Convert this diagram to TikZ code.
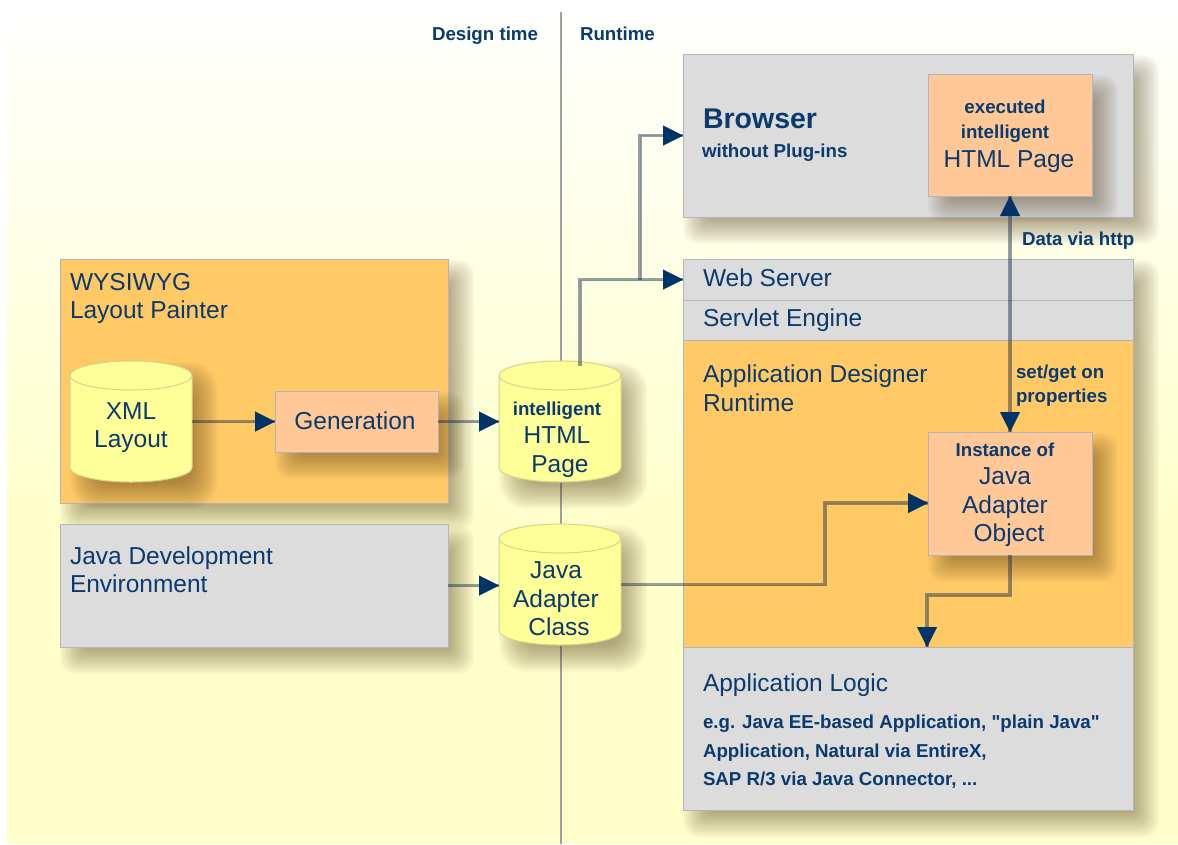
\documentclass[tikz,border=0pt]{standalone}
\usepackage{fontspec}
\setmainfont{Liberation Sans}[Ligatures=TeXOff]
\usetikzlibrary{arrows.meta,calc}
\definecolor{navy}{HTML}{0B3A6F}
\definecolor{tipnavy}{HTML}{003366}
\definecolor{orangebox}{HTML}{FFC966}
\definecolor{peach}{HTML}{FFC896}
\definecolor{grayb}{HTML}{DCDCDC}
\definecolor{cyly}{HTML}{FFFF99}
\definecolor{bord}{HTML}{B2B5BF}
\definecolor{bgy}{HTML}{FFFFCB}
\definecolor{shad}{HTML}{4A3410}
\definecolor{linkc}{HTML}{1C2C48}
\definecolor{cylb}{HTML}{D5D58A}
\newcommand{\softshadow}[5][2]{%
  \foreach \k in {0,...,15}{%
    \pgfmathsetmacro{\ins}{-13+1.73*\k}
    \fill[shad,opacity=0.032,rounded corners=#1pt+13pt-0.75pt*\k]
      ($(#2,#3)+(13+\ins,14+\ins)$) rectangle ($(#4,#5)+(13-\ins,14-\ins)$);
  }}
\newcommand{\cylbody}[5]{% name x1 y1 x2 y2
  \softshadow[14]{#2}{#3}{#4}{#5}
  \pgfmathsetmacro{\mx}{(#2+#4)/2}
  \pgfmathsetmacro{\rx}{(#4-#2)/2}
  \filldraw[cylline] (#2,#3+14.5) -- (#2,#5-14.5) arc[start angle=180,end angle=360,x radius=\rx,y radius=-14.5] -- (#4,#3+14.5) arc[start angle=0,end angle=180,x radius=\rx,y radius=-14.5] -- cycle;
  \draw[cylline,fill=none] (#2,#3+14.5) arc[start angle=180,end angle=360,x radius=\rx,y radius=-14.5];
  \node[anch,minimum width=#4pt-#2pt,minimum height=#5pt-#3pt] (#1) at (\mx,{(#3+#5)/2}) {};
}
\newcommand{\boxnode}[6]{% name style x1 y1 x2 y2
  \node[#2,minimum width=#5pt-#3pt,minimum height=#6pt-#4pt] (#1) at ({(#3+#5)/2},{(#4+#6)/2}) {};
}
\newcommand{\conn}[2][]{%
  \draw[linkline,#1] #2;
  \draw[linktip,#1] #2;
}
\tikzset{
  x=1pt,y=-1pt,
  anch/.style={rectangle,inner sep=0pt,outer sep=0pt,draw=none},
  bx/.style={rectangle,inner sep=0pt,outer sep=0pt,draw=bord,line width=1pt},
  orangeb/.style={bx,fill=orangebox},
  peachb/.style={bx,fill=peach},
  grayf/.style={bx,fill=grayb},
  cylline/.style={draw=cylb,line width=1pt,fill=cyly},
  linkline/.style={draw=linkc,draw opacity=0.45,line width=3.2pt,line join=miter},
  linktip/.style={draw=tipnavy,line width=0.01pt,-{Triangle[length=20pt,width=20pt,fill=tipnavy,color=tipnavy]}},
  t/.style={anchor=base west,inner sep=0pt,outer sep=0pt,text=navy},
  c/.style={anchor=base,inner sep=0pt,outer sep=0pt,text=navy},
  big/.style={font=\fontsize{24.5}{24.5}\selectfont},
  small/.style={font=\fontsize{18.7}{18.7}\selectfont\bfseries},
}
\begin{document}
\begin{tikzpicture}
\useasboundingbox (0,0) rectangle (1178,844);
\fill[white] (0,0) rectangle (1178,844);
\shade[top color=white,bottom color=bgy] (7,0) rectangle (1178,520);
\fill[bgy] (7,520) rectangle (1178,844);
% divider
\coordinate (divtop) at (561,12);
\coordinate (divbot) at (561,844);
\draw[draw=gray!75,line width=1.3pt] (divtop) -- (divbot);
% shadows and boxes
\softshadow{60}{259}{448}{503}
\boxnode{wys}{orangeb}{60}{259}{448}{503}
\softshadow{60}{524}{448}{647}
\boxnode{jde}{grayf}{60}{524}{448}{647}
\softshadow{683}{54}{1133}{217}
\boxnode{browser}{grayf}{683}{54}{1133}{217}
\softshadow{928}{74}{1092}{196}
\boxnode{exec}{peachb}{928}{74}{1092}{196}
\softshadow{683}{259}{1133}{810}
\boxnode{web}{grayf}{683}{259}{1133}{300}
\boxnode{servlet}{grayf}{683}{300}{1133}{340}
\boxnode{rt}{orangeb}{683}{340}{1133}{647}
\boxnode{logic}{grayf}{683}{647}{1133}{810}
\softshadow{928}{432}{1092}{555}
\boxnode{inst}{peachb}{928}{432}{1092}{555}
\softshadow{275}{391}{438}{452}
\boxnode{gen}{peachb}{275}{391}{438}{452}
\cylbody{xml}{70}{361}{192}{482}
\cylbody{html}{499}{361}{621}{482}
\cylbody{jcl}{499}{524}{621}{645}
% free ends
\coordinate (htmlout) at (580,366);
\coordinate (split) at (640,279.5);
\coordinate (bend1) at (825,584.5);
\coordinate (bend2) at (825,503);
\coordinate (instin) at (928,503);
\coordinate (turn) at (1010,595);
\coordinate (login) at (927,647);
\coordinate (logtop) at (927,595);
\coordinate (jclin) at (499,585.5);
% connectors
\conn{(xml.east) -- (gen.west)}
\conn{(gen.east) -- (html.west)}
\conn{(htmlout) |- (web.west)}
\conn{(split) |- (browser.west)}
\conn{(jde.east) -- (jclin)}
\conn{(jcl.east) -- (bend1) -- (bend2) -- (instin)}
\conn{(inst.south) -- (turn) -- (logtop) -- (login)}
\draw[linkline] (exec.south) -- (inst.north);
\draw[linktip,{Triangle[length=20pt,width=20pt,fill=tipnavy,color=tipnavy]}-{Triangle[length=20pt,width=20pt,fill=tipnavy,color=tipnavy]}] (exec.south) -- (inst.north);
% labels
\node[t,small] (ldes) at (432,40) {Design time};
\node[t,small] (lrun) at (580,40) {Runtime};
\node[t,big] (lwys1) at (70,290) {WYSIWYG};
\node[t,big] (lwys2) at (70,318) {Layout Painter};
\node[t,big] (ljde1) at (70,564) {Java Development};
\node[t,big] (ljde2) at (70,592) {Environment};
\node[c,big] (lxml1) at (131,419) {XML};
\node[c,big] (lxml2) at (131,447) {Layout};
\node[c,big] (lgen) at (355,429) {Generation};
\node[c,small] (lh1) at (557,415) {intelligent};
\node[c,big] (lh2) at (557,443) {HTML};
\node[c,big] (lh3) at (560,472) {Page};
\node[c,big] (lj1) at (556,578) {Java};
\node[c,big] (lj2) at (556,607) {Adapter};
\node[c,big] (lj3) at (559,635) {Class};
\node[t,font=\fontsize{28.5}{28.5}\selectfont\bfseries] (lbr) at (703,128) {Browser};
\node[t,small] (lbr2) at (702,157) {without Plug-ins};
\node[c,small] (lex1) at (1005,113) {executed};
\node[c,small] (lex2) at (1005,138) {intelligent};
\node[c,big] (lex3) at (1009,167) {HTML Page};
\node[t,small] (ldata) at (1022,245) {Data via http};
\node[t,big] (lweb) at (703,286) {Web Server};
\node[t,big] (lsrv) at (703,326) {Servlet Engine};
\node[t,big] (lrt1) at (703,382) {Application Designer};
\node[t,big] (lrt2) at (703,411) {Runtime};
\node[t,small] (lset1) at (1016,378) {set/get on};
\node[t,small] (lset2) at (1016,402) {properties};
\node[c,small] (lin1) at (1005,456) {Instance of};
\node[c,big] (lin2) at (1005,484) {Java};
\node[c,big] (lin3) at (1005,513) {Adapter};
\node[c,big] (lin4) at (1009,541) {Object};
\node[t,big] (llog) at (703,691) {Application Logic};
\node[t,small] (ll1) at (703,728) {e.g. Java EE-based Application, "plain Java"};
\node[t,small] (ll2) at (703,757) {Application, Natural via EntireX,};
\node[t,small] (ll3) at (703,785) {SAP R/3 via Java Connector, ...};
\end{tikzpicture}
\end{document}
